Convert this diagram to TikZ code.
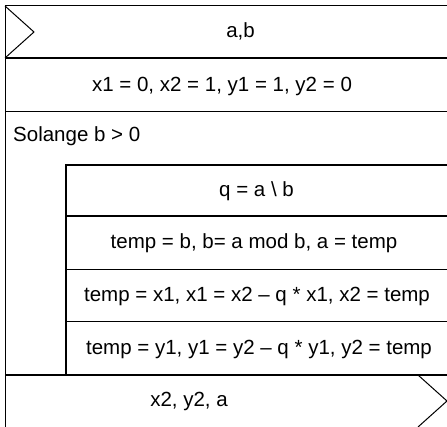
\documentclass[tikz,border=0pt]{standalone}
\usepackage{fontspec}
\setmainfont{Liberation Sans}

\begin{document}
\begin{tikzpicture}[x=1pt,y=-1pt,
    thinline/.style={line width=1pt},
    thickline/.style={line width=2pt},
    cell/.style={inner sep=0pt, text height=15pt, text depth=4pt},
    font=\fontsize{20.5}{23}\selectfont]
    \useasboundingbox (0,0) rectangle (447,427);
    % outer frame and input / output marks
    \draw[thinline] (449,6) -- (5,6) -- (5,430);
    \draw[thinline] (5,6) -- (34,32) -- (5,58);
    \draw[thinline] (418,375) -- (447,401) -- (418,427);
    % rows
    \draw[thickline] (5,58) -- (449,58);
    \draw[thinline] (5,112) -- (449,112);
    \draw[thickline] (5,375) -- (449,375);
    % loop body
    \draw[thickline] (449,165) -- (66,165) -- (66,375);
    \draw[thickline] (66,216) -- (449,216);
    \foreach \y in {270,322} {\draw[thinline] (66,\y) -- (449,\y);}
    % texts
    \node[cell] (input) at (240.5,32) {a,b};
    \node[cell] (init) at (222,86) {x1 = 0, x2 = 1, y1 = 1, y2 = 0};
    \node[anchor=base west, inner sep=0pt] (loop) at (13,142) {Solange b > 0};
    \node[cell] (quot) at (256.5,191) {q = a \textbackslash{} b};
    \node[cell] (swapab) at (254,243.5) {temp = b, b= a mod b, a = temp};
    \node[cell] (swapx) at (257,296.5) {temp = x1, x1 = x2 – q * x1, x2 = temp};
    \node[cell] (swapy) at (259,349) {temp = y1, y1 = y2 – q * y1, y2 = temp};
    \node[cell] (output) at (189,401) {x2, y2, a};
\end{tikzpicture}
\end{document}
